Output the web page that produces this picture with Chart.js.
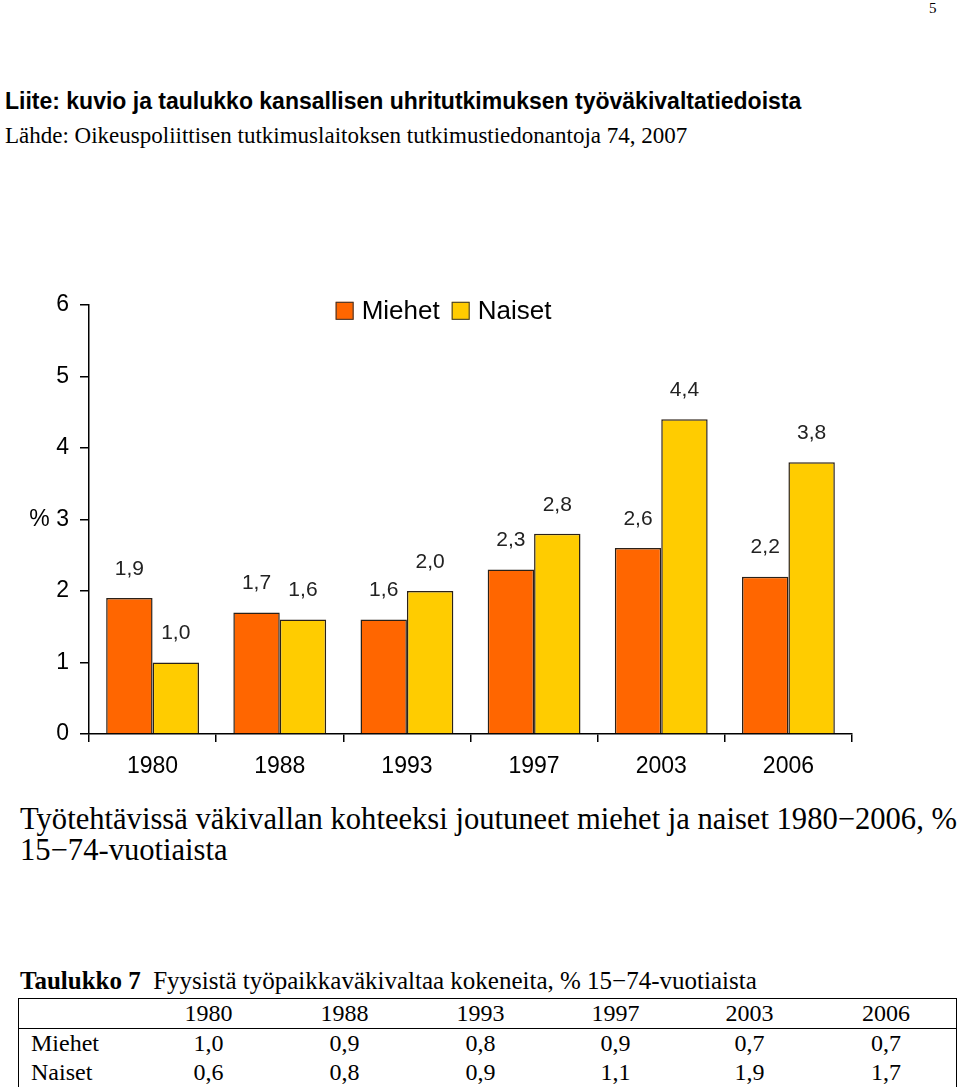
<!DOCTYPE html>
<html>
<head>
<meta charset="utf-8">
<script src="https://cdn.jsdelivr.net/npm/chart.js@4.4.1/dist/chart.umd.min.js"></script>
<style>
    body { margin: 0; background: #fff; width: 960px; height: 1087px; position: relative; overflow: hidden; }
    .t { position: absolute; white-space: nowrap; color: #000; }
    .serif { font-family: "Liberation Serif", "Times New Roman", serif; }
    .sans { font-family: "Liberation Sans", Arial, sans-serif; }
    #chartbox { position: absolute; left: 0; top: 280px; width: 900px; height: 510px; }
    #tbl { position: absolute; left: 18px; top: 998px; border-collapse: collapse; border: 1px solid #000;
        font-family: "Liberation Serif", "Times New Roman", serif; font-size: 24px; }
    #tbl td { padding: 0; height: 29px; line-height: 29px; text-align: center; }
    #tbl td.lbl { text-align: left; padding-left: 12px; }
    #tbl tr.head td { border-bottom: 1px solid #000; }
</style>
</head>
<body>
<div class="t serif" style="left:929px; top:0px; font-size:15px;">5</div>
<div class="t sans" style="left:5px; top:88px; font-size:23px; font-weight:bold;">Liite: kuvio ja taulukko kansallisen uhritutkimuksen työväkivaltatiedoista</div>
<div class="t serif" style="left:5px; top:123px; font-size:23px;">Lähde: Oikeuspoliittisen tutkimuslaitoksen tutkimustiedonantoja 74, 2007</div>

<div id="chartbox"><canvas id="myChart"></canvas></div>

<div class="t serif" style="left:20px; top:804px; font-size:30.6px; line-height:31px;">Työtehtävissä väkivallan kohteeksi joutuneet miehet ja naiset 1980−2006, %<br>15−74-vuotiaista</div>

<div class="t serif" style="left:20px; top:967px; font-size:25px;"><b>Taulukko 7</b>&nbsp; Fyysistä työpaikkaväkivaltaa kokeneita, % 15−74-vuotiaista</div>
<table id="tbl"></table>

<script>
// chart data
const years = ['1980', '1988', '1993', '1997', '2003', '2006'];
const miehet = [1.9, 1.7, 1.6, 2.3, 2.6, 2.2];
const naiset = [1.0, 1.6, 2.0, 2.8, 4.4, 3.8];
const yTickLabels = ['0', '1', '2', '% 3', '4', '5', '6'];

// table data
const tableYears = ['1980', '1988', '1993', '1997', '2003', '2006'];
const tableMiehet = [1.0, 0.9, 0.8, 0.9, 0.7, 0.7];
const tableNaiset = [0.6, 0.8, 0.9, 1.1, 1.9, 1.7];

const fmt = v => v.toFixed(1).replace('.', ',');
const sans = '"Liberation Sans", Arial, sans-serif';

// build the table
const colWidths = [122, 135, 137, 135, 135, 133, 140];
const tbl = document.getElementById('tbl');
let html = '<tr class="head"><td style="width:' + colWidths[0] + 'px"></td>';
tableYears.forEach((y, i) => { html += '<td style="width:' + colWidths[i + 1] + 'px">' + y + '</td>'; });
html += '</tr><tr><td class="lbl">Miehet</td>';
tableMiehet.forEach(v => { html += '<td>' + fmt(v) + '</td>'; });
html += '</tr><tr><td class="lbl">Naiset</td>';
tableNaiset.forEach(v => { html += '<td>' + fmt(v) + '</td>'; });
html += '</tr>';
tbl.innerHTML = html;

// value labels above bars
const valueLabels = {
    id: 'valueLabels',
    afterDatasetsDraw(chart) {
        const ctx = chart.ctx;
        ctx.save();
        ctx.font = '21px ' + sans;
        ctx.fillStyle = '#222';
        ctx.textAlign = 'center';
        ctx.textBaseline = 'middle';
        chart.data.datasets.forEach((ds, i) => {
            chart.getDatasetMeta(i).data.forEach((bar, j) => {
                ctx.fillText(fmt(ds.data[j]), bar.x, bar.y - 29);
            });
        });
        ctx.restore();
    }
};

// legend drawn in a row over the top of the plot, a bit left of centre
const topLegend = {
    id: 'topLegend',
    afterDraw(chart) {
        const ctx = chart.ctx;
        const box = 18, gap = 8, itemGap = 12;
        const cx = chart.chartArea.left + (chart.chartArea.right - chart.chartArea.left) / 2 - 27;
        const cy = chart.chartArea.top + 6;
        ctx.save();
        ctx.font = '26px ' + sans;
        ctx.textBaseline = 'middle';
        const items = chart.data.datasets.map(ds => ({ ds, w: ctx.measureText(ds.label).width }));
        let total = 0;
        items.forEach((it, i) => { total += box + gap + it.w + (i ? itemGap : 0); });
        let x = cx - total / 2;
        items.forEach(it => {
            ctx.fillStyle = it.ds.backgroundColor;
            ctx.fillRect(x, cy - box / 2, box, box);
            ctx.strokeStyle = '#333';
            ctx.lineWidth = 1;
            ctx.strokeRect(x + 0.5, cy - box / 2 + 0.5, box - 1, box - 1);
            ctx.fillStyle = '#000';
            ctx.fillText(it.ds.label, x + box + gap, cy + 1);
            x += box + gap + it.w + itemGap;
        });
        ctx.restore();
    }
};

const data = {
    labels: years,
    datasets: [{
        label: 'Miehet',
        data: miehet,
        backgroundColor: '#FF6600',
        borderColor: '#2b2118',
        borderWidth: 1.5,
    },
    {
        label: 'Naiset',
        data: naiset,
        backgroundColor: '#FFCC00',
        borderColor: '#2b2118',
        borderWidth: 1.5,
    }]
};

const config = {
    type: 'bar',
    data: data,
    options: {
        responsive: true,
        maintainAspectRatio: false,
        animation: false,
        categoryPercentage: 0.73,
        barPercentage: 1,
        layout: {
            padding: { top: 23, right: 48, left: 0, bottom: 0 }
        },
        scales: {
            x: {
                afterFit(scale) { scale.height = 56; },
                border: { color: '#000', width: 1.5 },
                grid: {
                    drawOnChartArea: false,
                    tickLength: 8,
                    color: '#000',
                    lineWidth: 1.5,
                },
                ticks: {
                    padding: 11,
                    color: '#000',
                    font: { family: sans, size: 23 }
                }
            },
            y: {
                min: 0,
                max: 6,
                afterFit(scale) { scale.width = 89; },
                border: { color: '#000', width: 1.5 },
                grid: {
                    drawOnChartArea: false,
                    tickLength: 9,
                    color: '#000',
                    lineWidth: 1.5,
                },
                ticks: {
                    stepSize: 1,
                    padding: 11,
                    color: '#000',
                    font: { family: sans, size: 23 },
                    callback: (v, i) => yTickLabels[i]
                }
            }
        },
        plugins: {
            tooltip: { enabled: false },
            legend: { display: false }
        }
    },
    plugins: [valueLabels, topLegend]
};

const myChart = new Chart(
    document.getElementById('myChart'),
    config
);
</script>
</body>
</html>
